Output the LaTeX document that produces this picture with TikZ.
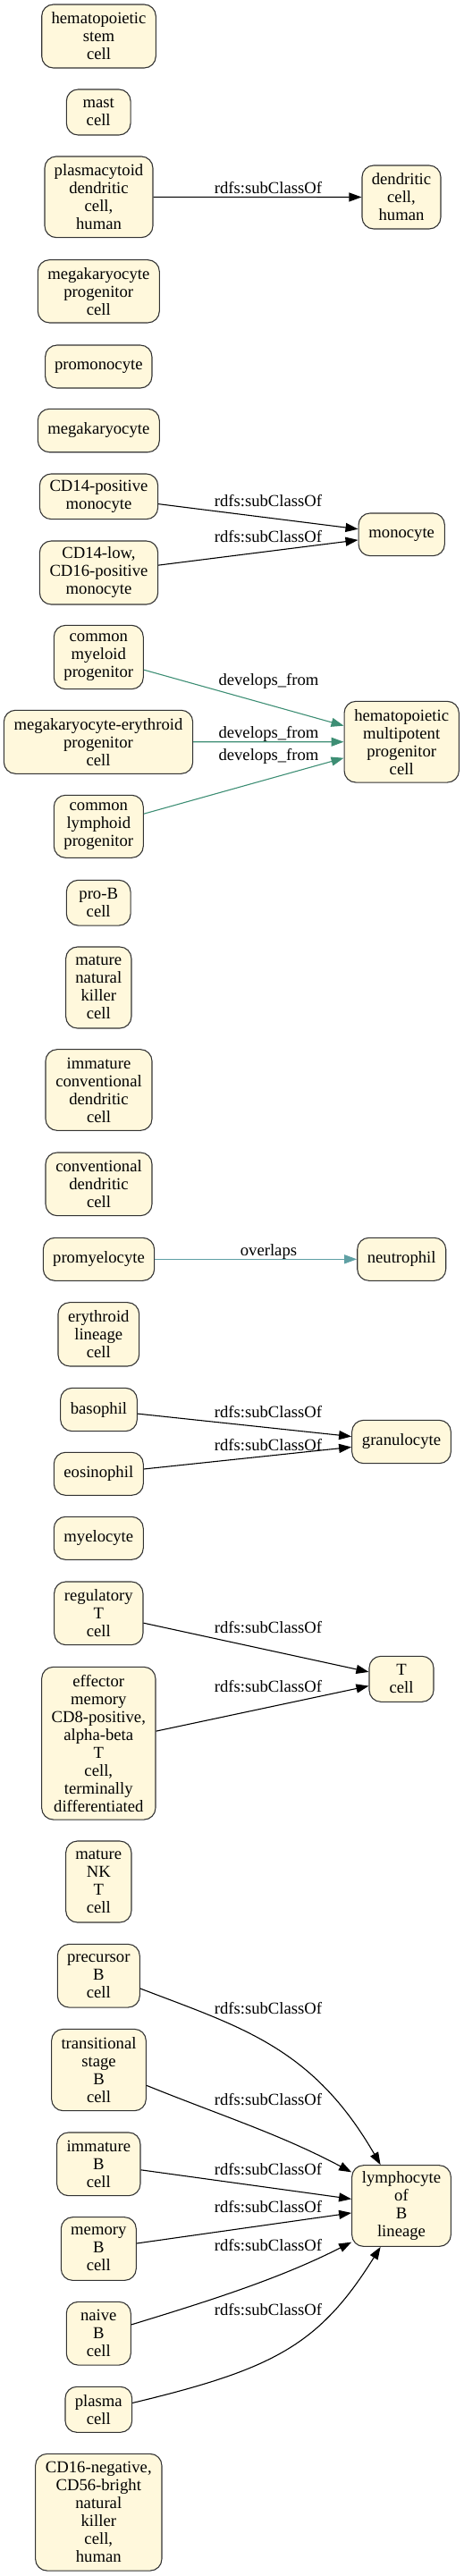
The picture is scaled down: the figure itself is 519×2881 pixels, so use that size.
\documentclass[tikz,border=0pt]{standalone}
\usepackage{fontspec}
\setmainfont{Liberation Serif}
\usetikzlibrary{arrows.meta}
\definecolor{cellfill}{RGB}{255,248,220}
\definecolor{cellborder}{RGB}{51,51,51}
\definecolor{devgreen}{RGB}{61,142,116}
\definecolor{ovteal}{RGB}{95,160,164}
\tikzset{
  cell/.style={draw=cellborder, fill=cellfill, line width=1.1pt, rounded corners=13pt,
    inner sep=0pt, align=center, font=\fontsize{18.67}{20}\selectfont},
  elabel/.style={anchor=base, inner sep=0pt, font=\fontsize{18.67}{20}\selectfont},
  arr/.style={line width=1.1pt, -{Triangle[length=14pt,width=10pt]}},
  sub/.style={arr, draw=black},
  dev/.style={arr, draw=devgreen},
  ovl/.style={arr, draw=ovteal},
}
\newcommand{\cellnode}[6]{\node[cell, minimum width=#4pt, minimum height=#5pt] (#1) at (#2,-#3) {#6};}
\begin{document}
\begin{tikzpicture}[x=1pt,y=1pt]
\useasboundingbox (0,0) rectangle (519,-2881);
% nodes
\cellnode{hsc}{110.5}{40.5}{127.6}{71}{hematopoietic\\stem\\cell}
\cellnode{mast}{110.2}{125.5}{71.7}{51}{mast\\cell}
\cellnode{pdc}{110.5}{220.3}{121}{90.7}{plasmacytoid\\dendritic\\cell,\\human}
\cellnode{dch}{449}{220.5}{88}{71}{dendritic\\cell,\\human}
\cellnode{mkp}{110.3}{325.8}{136}{70.3}{megakaryocyte\\progenitor\\cell}
\cellnode{promono}{110.3}{410}{119.3}{48}{promonocyte}
\cellnode{mk}{110.3}{481.5}{136}{48.4}{megakaryocyte}
\cellnode{cdp}{110.5}{555.3}{132.3}{50.7}{CD14-positive\\monocyte}
\cellnode{cdl}{110.5}{640.5}{132.3}{71}{CD14-low,\\CD16-positive\\monocyte}
\cellnode{mono}{449.2}{597.8}{96.3}{47.7}{monocyte}
\cellnode{cmp}{110.3}{735}{100}{71.3}{common\\myeloid\\progenitor}
\cellnode{mep}{110}{829.8}{211.3}{71}{megakaryocyte-erythroid\\progenitor\\cell}
\cellnode{clp}{110.3}{924.3}{100}{70}{common\\lymphoid\\progenitor}
\cellnode{hmpc}{449.2}{829.7}{128.3}{90.7}{hematopoietic\\multipotent\\progenitor\\cell}
\cellnode{prob}{110.2}{1009.7}{71.7}{50.7}{pro-B\\cell}
\cellnode{mnk}{110.3}{1104.5}{73.3}{91}{mature\\natural\\killer\\cell}
\cellnode{icdc}{110.5}{1219}{119}{90.7}{immature\\conventional\\dendritic\\cell}
\cellnode{cdc}{110.5}{1324.3}{119}{70.7}{conventional\\dendritic\\cell}
\cellnode{promy}{110.5}{1408.3}{124.3}{48}{promyelocyte}
\cellnode{neut}{449.2}{1408.3}{99}{48}{neutrophil}
\cellnode{ery}{110.3}{1492.3}{90.7}{71.3}{erythroid\\lineage\\cell}
\cellnode{baso}{110.5}{1576.5}{85.7}{48.3}{basophil}
\cellnode{eos}{110.3}{1648.3}{100}{48}{eosinophil}
\cellnode{gran}{449}{1612.5}{110.7}{48.3}{granulocyte}
\cellnode{myelo}{110.3}{1720.3}{100}{48}{myelocyte}
\cellnode{treg}{110.3}{1804.3}{99.3}{70.7}{regulatory\\T\\cell}
\cellnode{tcell}{449}{1877.8}{72}{51}{T\\cell}
\cellnode{eff}{110.3}{1949.7}{127.3}{170.7}{effector\\memory\\CD8-positive,\\alpha-beta\\T\\cell,\\terminally\\differentiated}
\cellnode{mnkt}{110.3}{2104.5}{73.3}{91}{mature\\NK\\T\\cell}
\cellnode{preb}{110.3}{2209.7}{92}{70.7}{precursor\\B\\cell}
\cellnode{trans}{110.5}{2315}{105.7}{91.3}{transitional\\stage\\B\\cell}
\cellnode{immb}{110.3}{2420.3}{93.3}{70.7}{immature\\B\\cell}
\cellnode{lymph}{449}{2467}{110.7}{90.7}{lymphocyte\\of\\B\\lineage}
\cellnode{memb}{110.3}{2515}{84}{70.7}{memory\\B\\cell}
\cellnode{naive}{110.3}{2609.7}{72}{70.7}{naive\\B\\cell}
\cellnode{plasma}{110.3}{2694.8}{74.7}{51}{plasma\\cell}
\cellnode{cdneg}{110.3}{2809.7}{141.3}{130.7}{CD16-negative,\\CD56-bright\\natural\\killer\\cell,\\human}
% edges
\draw[sub] (pdc) -- (dch);
\draw[sub] (cdp) -- (mono);
\draw[sub] (cdl) -- (mono);
\draw[dev] (cmp) -- (hmpc);
\draw[dev] (mep) -- (hmpc);
\draw[dev] (clp) -- (hmpc);
\draw[ovl] (promy) -- (neut);
\draw[sub] (baso) -- (gran);
\draw[sub] (eos) -- (gran);
\draw[sub] (treg) -- (tcell);
\draw[sub] (eff) -- (tcell);
\draw[sub] (preb.-17) .. controls +(-21:121) and +(120:152) .. (lymph.117);
\draw[sub] (trans.-18) .. controls +(-22:90) and +(152:90) .. (lymph.146);
\draw[sub] (immb) -- (lymph);
\draw[sub] (memb) -- (lymph);
\draw[sub] (naive.15) .. controls +(17:90) and +(207:90) .. (lymph.216);
\draw[sub] (plasma.11) .. controls +(13.5:162) and +(238:130) .. (lymph.243);
% edge labels
\node[elabel] (l1) at (300,-216) {rdfs:subClassOf};
\node[elabel] (l2) at (300,-566) {rdfs:subClassOf};
\node[elabel] (l3) at (300,-606) {rdfs:subClassOf};
\node[elabel] (l4) at (300.5,-766) {develops\_from};
\node[elabel] (l5) at (300.5,-825.3) {develops\_from};
\node[elabel] (l6) at (300.5,-850) {develops\_from};
\node[elabel] (l7) at (300.5,-1404.5) {overlaps};
\node[elabel] (l8) at (300,-1585.3) {rdfs:subClassOf};
\node[elabel] (l9) at (300,-1622.7) {rdfs:subClassOf};
\node[elabel] (l10) at (300,-1826) {rdfs:subClassOf};
\node[elabel] (l11) at (300,-1892) {rdfs:subClassOf};
\node[elabel] (l12) at (300,-2252) {rdfs:subClassOf};
\node[elabel] (l13) at (300,-2354.3) {rdfs:subClassOf};
\node[elabel] (l14) at (300,-2432.7) {rdfs:subClassOf};
\node[elabel] (l15) at (300,-2474.3) {rdfs:subClassOf};
\node[elabel] (l16) at (300,-2517) {rdfs:subClassOf};
\node[elabel] (l17) at (300,-2589.3) {rdfs:subClassOf};
\end{tikzpicture}
\end{document}
